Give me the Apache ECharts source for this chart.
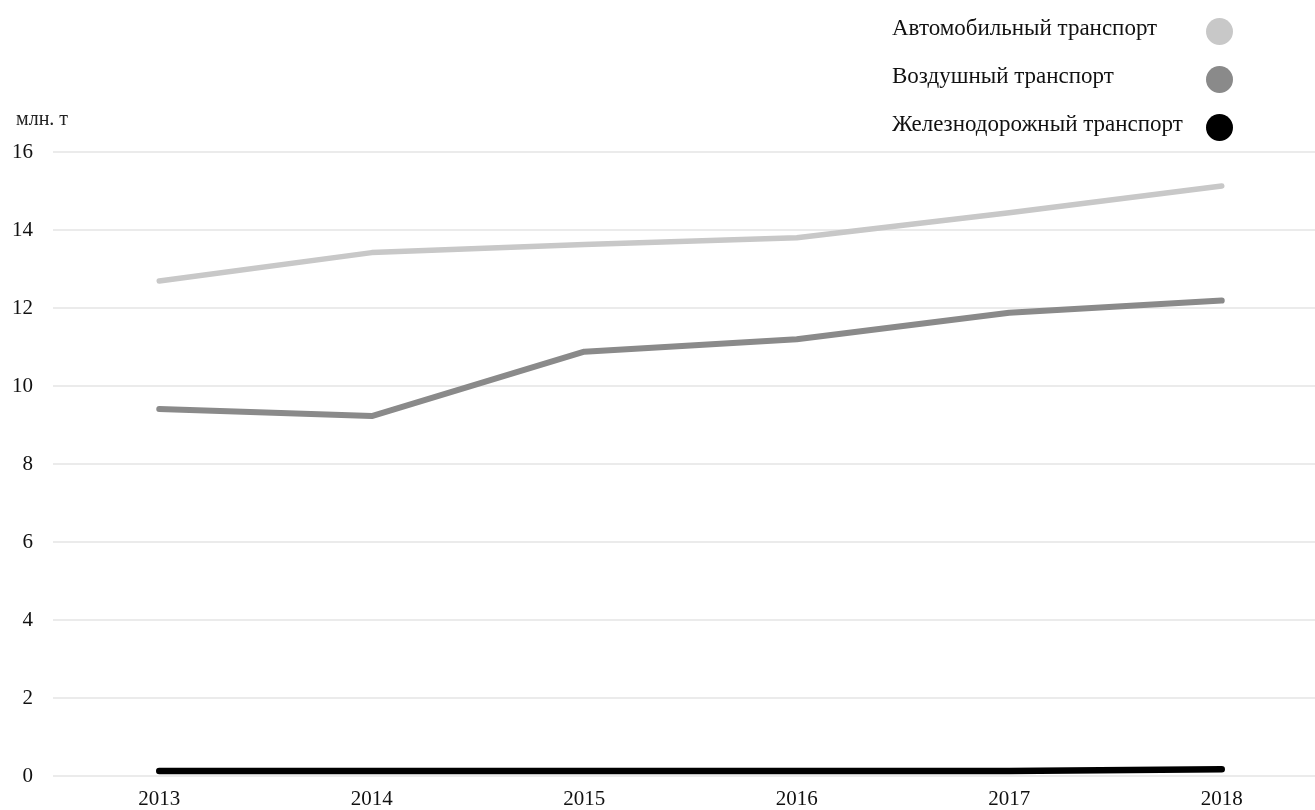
<!DOCTYPE html>
<html>
<head>
<meta charset="utf-8">
<script src="https://cdn.jsdelivr.net/npm/echarts@6/dist/echarts.min.js"></script>
<style>
  html, body { margin: 0; padding: 0; background: #fff; }
  #chart-content { width: 1315px; height: 810px; }
</style>
</head>
<body>
<div id="chart-content"></div>
<script>
  // годы (ось X)
  const years = ['2013', '2014', '2015', '2016', '2017', '2018'];
  // серии, млн. т
  const autoData = [12.69, 13.42, 13.63, 13.80, 14.44, 15.13];
  const airData = [9.41, 9.23, 10.88, 11.20, 11.88, 12.19];
  const railData = [0.13, 0.13, 0.13, 0.13, 0.13, 0.17];
  const seriesNames = ['Автомобильный транспорт', 'Воздушный транспорт', 'Железнодорожный транспорт'];
  const colorData = ['#c8c8c8', '#8a8a8a', '#000000'];
  const lineWidths = [5.5, 6, 6.5];

  const font = 'Liberation Serif, DejaVu Serif, serif';
  const myEcharts = echarts.init(document.getElementById('chart-content'));

  function lineSeries(i, data) {
    return {
      name: seriesNames[i],
      type: 'line',
      data: data,
      symbol: 'none',
      color: colorData[i],
      lineStyle: { width: lineWidths[i], color: colorData[i], cap: 'round', join: 'round' },
      animation: false
    };
  }

  let option = {
    backgroundColor: '#fff',
    title: {
      text: 'млн. т',
      left: 11,
      top: 105,
      textStyle: { fontFamily: font, fontSize: 20, fontWeight: 'normal', color: '#222' }
    },
    legend: {
      orient: 'vertical',
      left: 887,
      top: 12,
      align: 'right',
      itemGap: 20,
      itemWidth: 27,
      itemHeight: 27,
      icon: 'circle',
      selectedMode: false,
      data: seriesNames,
      formatter: '{t|{name}}',
      textStyle: {
        fontFamily: font,
        fontSize: 23,
        color: '#111',
        rich: {
          t: { fontFamily: font, fontSize: 23, color: '#111', width: 309, align: 'left', padding: [0, 0, 6, 0] }
        }
      }
    },
    grid: {
      left: 53,
      top: 152,
      bottom: 34,
      width: 1275,
      outerBoundsMode: 'none',
      containLabel: false
    },
    xAxis: {
      type: 'category',
      data: years,
      boundaryGap: true,
      axisLine: { show: false },
      axisTick: { show: false },
      axisLabel: { margin: 13, fontFamily: font, fontSize: 21, color: '#111' }
    },
    yAxis: {
      type: 'value',
      min: 0,
      max: 16,
      interval: 2,
      axisLine: { show: false },
      axisTick: { show: false },
      splitLine: { show: true, lineStyle: { color: '#e4e4e4', width: 1.5 } },
      axisLabel: { margin: 20, fontFamily: font, fontSize: 21, color: '#111' }
    },
    series: [
      lineSeries(0, autoData),
      lineSeries(1, airData),
      lineSeries(2, railData)
    ]
  };
  myEcharts.setOption(option);
</script>
</body>
</html>
